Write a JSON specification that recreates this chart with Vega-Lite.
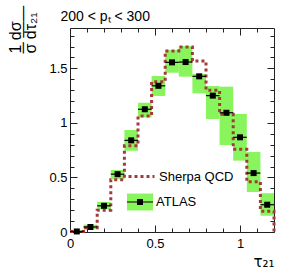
{
  "$schema": "https://vega.github.io/schema/vega-lite/v6.json",
  "width": 204,
  "height": 204,
  "autosize": {"type": "none"},
  "padding": {"left": 70, "top": 28, "right": 18, "bottom": 45},
  "background": "white",
  "config": {
    "font": "Liberation Sans",
    "view": {"stroke": null},
    "axis": {"grid": false, "domainColor": "#222", "tickColor": "#222", "labelFont": "Liberation Sans", "labelFontSize": 13, "labelColor": "#000", "titleColor": "#000", "titleFontWeight": "normal", "format": "~g"},
    "legend": {"padding": 0, "titleLimit": 0, "labelFont": "Liberation Sans", "labelFontSize": 13, "labelColor": "#000", "labelOffset": 3, "symbolOpacity": 1}
  },
  "datasets": {
    "bins": [
      {"lo": 0.00, "hi": 0.08, "x": 0.04, "v": 0.005, "low": 0.0, "high": 0.02},
      {"lo": 0.08, "hi": 0.16, "x": 0.12, "v": 0.046, "low": 0.025, "high": 0.067},
      {"lo": 0.16, "hi": 0.24, "x": 0.20, "v": 0.24, "low": 0.208, "high": 0.275},
      {"lo": 0.24, "hi": 0.32, "x": 0.28, "v": 0.53, "low": 0.483, "high": 0.568},
      {"lo": 0.32, "hi": 0.40, "x": 0.36, "v": 0.84, "low": 0.745, "high": 0.935},
      {"lo": 0.40, "hi": 0.48, "x": 0.44, "v": 1.125, "low": 1.051, "high": 1.185},
      {"lo": 0.48, "hi": 0.56, "x": 0.52, "v": 1.34, "low": 1.247, "high": 1.43},
      {"lo": 0.56, "hi": 0.64, "x": 0.60, "v": 1.555, "low": 1.46, "high": 1.668},
      {"lo": 0.64, "hi": 0.72, "x": 0.68, "v": 1.558, "low": 1.424, "high": 1.705},
      {"lo": 0.72, "hi": 0.80, "x": 0.76, "v": 1.427, "low": 1.271, "high": 1.448},
      {"lo": 0.80, "hi": 0.88, "x": 0.84, "v": 1.25, "low": 1.036, "high": 1.338},
      {"lo": 0.88, "hi": 0.96, "x": 0.92, "v": 1.093, "low": 0.797, "high": 1.332},
      {"lo": 0.96, "hi": 1.04, "x": 1.00, "v": 0.868, "low": 0.654, "high": 1.082},
      {"lo": 1.04, "hi": 1.12, "x": 1.08, "v": 0.54, "low": 0.367, "high": 0.733},
      {"lo": 1.12, "hi": 1.20, "x": 1.16, "v": 0.25, "low": 0.149, "high": 0.355}
    ],
    "sherpa": [
      {"i": 0, "x": 0.00, "y": 0.005},
      {"i": 1, "x": 0.08, "y": 0.04},
      {"i": 2, "x": 0.16, "y": 0.2},
      {"i": 3, "x": 0.24, "y": 0.48},
      {"i": 4, "x": 0.32, "y": 0.79},
      {"i": 5, "x": 0.40, "y": 1.063},
      {"i": 6, "x": 0.48, "y": 1.378},
      {"i": 7, "x": 0.56, "y": 1.66},
      {"i": 8, "x": 0.64, "y": 1.696},
      {"i": 9, "x": 0.72, "y": 1.567},
      {"i": 10, "x": 0.80, "y": 1.30},
      {"i": 11, "x": 0.88, "y": 1.08},
      {"i": 12, "x": 0.96, "y": 0.758},
      {"i": 13, "x": 1.04, "y": 0.46},
      {"i": 14, "x": 1.12, "y": 0.19},
      {"i": 15, "x": 1.20, "y": 0.19},
      {"i": 16, "x": 1.20, "y": 0.0}
    ]
  },
  "layer": [
    {
      "data": {"name": "bins"},
      "mark": {"type": "rect", "stroke": null},
      "encoding": {
        "x": {"field": "lo", "type": "quantitative", "scale": {"domain": [0, 1.2], "nice": false, "zero": false},
          "axis": {"orient": "bottom", "values": [0, 0.5, 1], "tickSize": -7,
            "labelPadding": 12, "labelFlush": false, "labelOverlap": false,
            "title": "τ₂₁", "titleFontSize": 15, "titleAnchor": "end", "titlePadding": 4, "titleFont": "DejaVu Sans"}},
        "x2": {"field": "hi"},
        "y": {"field": "low", "type": "quantitative", "scale": {"domain": [0, 1.87], "nice": false, "zero": false},
          "axis": {"orient": "left", "values": [0, 0.5, 1, 1.5], "tickSize": -7,
            "labelPadding": 10, "labelOverlap": false, "labelFlush": false,
            "title": ["1    dσ", "─   ——", "σ    dτ₂₁"], "titleFontSize": 16, "titleAngle": -90, "titleAlign": "left", "titleBaseline": "alphabetic",
            "titleX": -50, "titleY": 25, "titleLineHeight": 7.6, "titleFont": "Liberation Sans"}},
        "y2": {"field": "high"},
        "fill": {"datum": "ATLAS", "type": "nominal",
          "scale": {"range": ["#88f55c"]},
          "legend": {"orient": "none", "legendX": 57, "legendY": 161, "title": null, "labelColor": "transparent",
            "symbolType": "M-1,-0.65H1V0.65H-1Z", "symbolSize": 676, "symbolStrokeWidth": 0}
        }
      }
    },
    {
      "data": {"name": "sherpa"},
      "mark": {"type": "line", "interpolate": "step-after", "strokeWidth": 3, "strokeDash": [3, 3]},
      "encoding": {
        "x": {"field": "x", "type": "quantitative",
          "axis": {"orient": "top", "values": [0, 0.5, 1], "labels": false, "tickSize": -7,
            "title": "200 < pₜ < 300", "titleFontSize": 14, "titleFont": "Liberation Sans", "titleAlign": "left", "titleBaseline": "alphabetic", "titleAnchor": "start", "titleX": -10, "titleY": -8}},
        "y": {"field": "y", "type": "quantitative",
          "axis": {"orient": "right", "values": [0, 0.5, 1, 1.5], "labels": false, "title": null, "tickSize": -7}},
        "order": {"field": "i", "type": "quantitative"},
        "stroke": {"datum": "Sherpa QCD", "type": "nominal",
          "scale": {"range": ["#a33a3a"]},
          "legend": {"orient": "none", "legendX": 57, "legendY": 134, "title": null,
            "symbolType": "stroke", "symbolSize": 676, "symbolStrokeWidth": 3, "symbolDash": [3, 3]}}
      }
    },
    {
      "data": {"name": "bins"},
      "mark": {"type": "rule", "color": "#000", "strokeWidth": 1.2},
      "encoding": {
        "x": {"field": "lo", "type": "quantitative",
          "axis": {"orient": "bottom", "values": [0.1,0.2,0.3,0.4,0.6,0.7,0.8,0.9,1.1], "labels": false, "title": null, "tickSize": -4, "domain": false}},
        "x2": {"field": "hi"},
        "y": {"field": "v", "type": "quantitative",
          "axis": {"orient": "left", "values": [0.1,0.2,0.3,0.4,0.6,0.7,0.8,0.9,1.1,1.2,1.3,1.4,1.6,1.7,1.8], "labels": false, "title": null, "tickSize": -4, "domain": false}}
      }
    },
    {
      "data": {"name": "bins"},
      "mark": {"type": "square", "color": "#000", "opacity": 1, "size": 36},
      "encoding": {
        "x": {"field": "x", "type": "quantitative",
          "axis": {"orient": "top", "values": [0.1,0.2,0.3,0.4,0.6,0.7,0.8,0.9,1.1], "labels": false, "title": null, "tickSize": -4, "domain": false}},
        "y": {"field": "v", "type": "quantitative",
          "axis": {"orient": "right", "values": [0.1,0.2,0.3,0.4,0.6,0.7,0.8,0.9,1.1,1.2,1.3,1.4,1.6,1.7,1.8], "labels": false, "title": null, "tickSize": -4, "domain": false}}
      }
    },
    {
      "data": {"name": "bins"},
      "transform": [{"filter": "false"}],
      "mark": {"type": "point", "filled": true, "color": "#000", "opacity": 1},
      "encoding": {
        "x": {"field": "x", "type": "quantitative", "axis": null},
        "y": {"field": "v", "type": "quantitative", "axis": null},
        "shape": {"datum": "ATLAS ", "type": "nominal",
          "scale": {"range": ["M-1,-0.04H1V0.04H-1Z M-0.23,-0.23H0.23V0.23H-0.23Z"]},
          "legend": {"orient": "none", "legendX": 57, "legendY": 161, "title": null,
            "symbolSize": 676, "symbolFillColor": "#000", "symbolStrokeColor": "#000", "symbolStrokeWidth": 0, "symbolOpacity": 1}}
      }
    }
  ],
  "resolve": {"axis": {"x": "independent", "y": "independent"}}
}
